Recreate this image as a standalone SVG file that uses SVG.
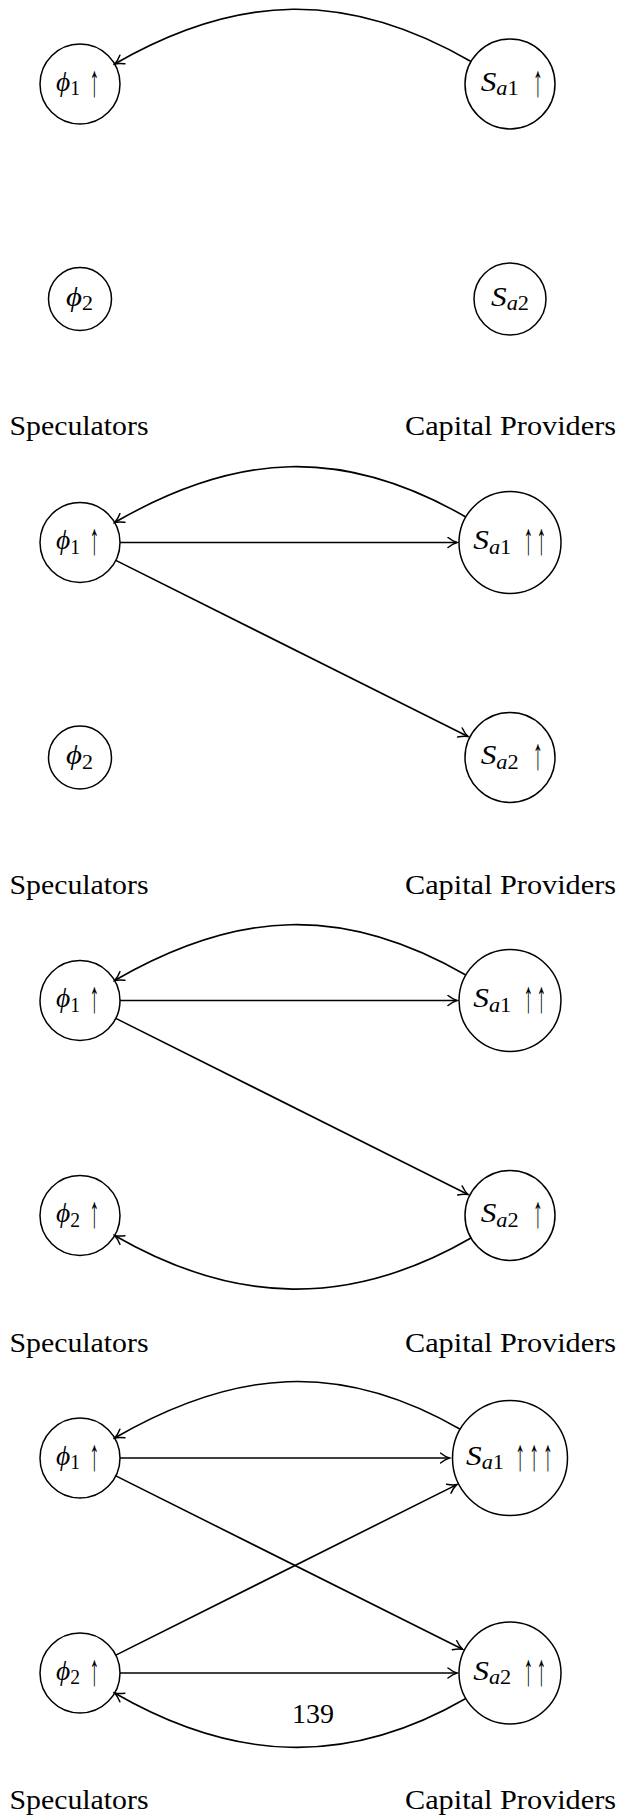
<svg xmlns="http://www.w3.org/2000/svg" width="621" height="1820" viewBox="0 0 621 1820">
<style>
.node{fill:#fff;stroke:#000;stroke-width:1.5}
.lbl{font-family:"Liberation Serif","DejaVu Serif",serif;font-size:28px;fill:#000}
.up{font-family:"Liberation Serif","DejaVu Serif",serif;font-size:28px;fill:#000;text-anchor:middle}
.it{font-style:italic}
.sub{font-size:20px}
.edge{fill:none;stroke:#000;stroke-width:1.6;marker-end:url(#arr)}
.cap{font-family:"Liberation Serif","DejaVu Serif",serif;font-size:28px;fill:#000}
</style>
<defs>
<marker id="arr" viewBox="-10 -6 12 12" refX="0" refY="0" markerWidth="12" markerHeight="12" markerUnits="userSpaceOnUse" orient="auto">
<path d="M-9,-5 C-5.5,-2.2 -1.8,-0.5 0,0 C-1.8,0.5 -5.5,2.2 -9,5" fill="none" stroke="#000" stroke-width="1.5" stroke-linecap="round"/>
</marker>
</defs>

<g id="panel1">
<g id="p1-phi1"><circle class="node" cx="80" cy="84" r="40"/><text class="lbl" x="56" y="90.5" textLength="24" lengthAdjust="spacingAndGlyphs"><tspan class="it">ϕ</tspan><tspan class="sub" dy="4.5">1</tspan></text><text class="up" transform="translate(0,95.5) scale(0.7,1.6)" x="135" y="0">↑</text></g>
<g id="p1-sa1"><circle class="node" cx="510" cy="84" r="45"/><text class="lbl" x="480.7" y="90.5" textLength="38" lengthAdjust="spacingAndGlyphs"><tspan class="it">S</tspan><tspan class="sub it" dy="4.5">a</tspan><tspan class="sub">1</tspan></text><text class="up" transform="translate(0,95.5) scale(0.7,1.6)" x="768.6" y="0">↑</text></g>
<g id="p1-phi2"><circle class="node" cx="80" cy="299" r="31.5"/><text class="lbl" x="66" y="305.5" textLength="27" lengthAdjust="spacingAndGlyphs"><tspan class="it">ϕ</tspan><tspan class="sub" dy="4.5">2</tspan></text></g>
<g id="p1-sa2"><circle class="node" cx="510" cy="299" r="36"/><text class="lbl" x="491" y="305.5" textLength="38" lengthAdjust="spacingAndGlyphs"><tspan class="it">S</tspan><tspan class="sub it" dy="4.5">a</tspan><tspan class="sub">2</tspan></text></g>
<g id="p1-labels"><text class="cap" x="9.5" y="435" textLength="139" lengthAdjust="spacingAndGlyphs">Speculators</text><text class="cap" x="405" y="435" textLength="211" lengthAdjust="spacingAndGlyphs">Capital Providers</text></g>
<g id="p1-connectors">
<path class="edge" d="M471,61.5 C347.5,-9.8 238.1,-7.3 114.6,64"/>
</g>
</g>

<g id="panel2" transform="translate(0,458.5)">
<g id="p2-phi1"><circle class="node" cx="80" cy="84" r="40"/><text class="lbl" x="56" y="90.5" textLength="24" lengthAdjust="spacingAndGlyphs"><tspan class="it">ϕ</tspan><tspan class="sub" dy="4.5">1</tspan></text><text class="up" transform="translate(0,95.5) scale(0.7,1.6)" x="135" y="0">↑</text></g>
<g id="p2-sa1"><circle class="node" cx="510" cy="84" r="51"/><text class="lbl" x="473.3" y="90.5" textLength="38" lengthAdjust="spacingAndGlyphs"><tspan class="it">S</tspan><tspan class="sub it" dy="4.5">a</tspan><tspan class="sub">1</tspan></text><text class="up" transform="translate(0,95.5) scale(0.7,1.6)" x="755 773.6" y="0">↑↑</text></g>
<g id="p2-phi2"><circle class="node" cx="80" cy="299" r="31.5"/><text class="lbl" x="66" y="305.5" textLength="27" lengthAdjust="spacingAndGlyphs"><tspan class="it">ϕ</tspan><tspan class="sub" dy="4.5">2</tspan></text></g>
<g id="p2-sa2"><circle class="node" cx="510" cy="299" r="45"/><text class="lbl" x="480.7" y="305.5" textLength="38" lengthAdjust="spacingAndGlyphs"><tspan class="it">S</tspan><tspan class="sub it" dy="4.5">a</tspan><tspan class="sub">2</tspan></text><text class="up" transform="translate(0,310.5) scale(0.7,1.6)" x="768.6" y="0">↑</text></g>
<g id="p2-labels"><text class="cap" x="9.5" y="435" textLength="139" lengthAdjust="spacingAndGlyphs">Speculators</text><text class="cap" x="405" y="435" textLength="211" lengthAdjust="spacingAndGlyphs">Capital Providers</text></g>
<g id="p2-connectors">
<path class="edge" d="M465.8,58.5 C343.3,-12.25 237.1,-6.75 114.6,64"/>
<path class="edge" d="M120,84 H457"/>
<path class="edge" d="M115.8,101.9 L468,278"/>
</g>
</g>

<g id="panel3" transform="translate(0,916.5)">
<g id="p3-phi1"><circle class="node" cx="80" cy="84" r="40"/><text class="lbl" x="56" y="90.5" textLength="24" lengthAdjust="spacingAndGlyphs"><tspan class="it">ϕ</tspan><tspan class="sub" dy="4.5">1</tspan></text><text class="up" transform="translate(0,95.5) scale(0.7,1.6)" x="135" y="0">↑</text></g>
<g id="p3-sa1"><circle class="node" cx="510" cy="84" r="51"/><text class="lbl" x="473.3" y="90.5" textLength="38" lengthAdjust="spacingAndGlyphs"><tspan class="it">S</tspan><tspan class="sub it" dy="4.5">a</tspan><tspan class="sub">1</tspan></text><text class="up" transform="translate(0,95.5) scale(0.7,1.6)" x="755 773.6" y="0">↑↑</text></g>
<g id="p3-phi2"><circle class="node" cx="80" cy="299" r="40"/><text class="lbl" x="56" y="305.5" textLength="24" lengthAdjust="spacingAndGlyphs"><tspan class="it">ϕ</tspan><tspan class="sub" dy="4.5">2</tspan></text><text class="up" transform="translate(0,310.5) scale(0.7,1.6)" x="135" y="0">↑</text></g>
<g id="p3-sa2"><circle class="node" cx="510" cy="299" r="45"/><text class="lbl" x="480.7" y="305.5" textLength="38" lengthAdjust="spacingAndGlyphs"><tspan class="it">S</tspan><tspan class="sub it" dy="4.5">a</tspan><tspan class="sub">2</tspan></text><text class="up" transform="translate(0,310.5) scale(0.7,1.6)" x="768.6" y="0">↑</text></g>
<g id="p3-labels"><text class="cap" x="9.5" y="435" textLength="139" lengthAdjust="spacingAndGlyphs">Speculators</text><text class="cap" x="405" y="435" textLength="211" lengthAdjust="spacingAndGlyphs">Capital Providers</text></g>
<g id="p3-connectors">
<path class="edge" d="M465.8,58.5 C343.3,-12.25 237.1,-6.75 114.6,64"/>
<path class="edge" d="M120,84 H457"/>
<path class="edge" d="M115.8,101.9 L468,278"/>
<path class="edge" d="M471,321.5 C350.2,391.3 235.4,388.8 114.6,319"/>
</g>
</g>

<g id="panel4" transform="translate(0,1374)">
<g id="p4-phi1"><circle class="node" cx="80" cy="84" r="40"/><text class="lbl" x="56" y="90.5" textLength="24" lengthAdjust="spacingAndGlyphs"><tspan class="it">ϕ</tspan><tspan class="sub" dy="4.5">1</tspan></text><text class="up" transform="translate(0,95.5) scale(0.7,1.6)" x="135" y="0">↑</text></g>
<g id="p4-sa1"><circle class="node" cx="510" cy="84" r="57.5"/><text class="lbl" x="466" y="90.5" textLength="38" lengthAdjust="spacingAndGlyphs"><tspan class="it">S</tspan><tspan class="sub it" dy="4.5">a</tspan><tspan class="sub">1</tspan></text><text class="up" transform="translate(0,95.5) scale(0.7,1.6)" x="742.9 762.9 782.9" y="0">↑↑↑</text></g>
<g id="p4-phi2"><circle class="node" cx="80" cy="299" r="40"/><text class="lbl" x="56" y="305.5" textLength="24" lengthAdjust="spacingAndGlyphs"><tspan class="it">ϕ</tspan><tspan class="sub" dy="4.5">2</tspan></text><text class="up" transform="translate(0,310.5) scale(0.7,1.6)" x="135" y="0">↑</text></g>
<g id="p4-sa2"><circle class="node" cx="510" cy="299" r="51"/><text class="lbl" x="473.3" y="305.5" textLength="38" lengthAdjust="spacingAndGlyphs"><tspan class="it">S</tspan><tspan class="sub it" dy="4.5">a</tspan><tspan class="sub">2</tspan></text><text class="up" transform="translate(0,310.5) scale(0.7,1.6)" x="755 773.6" y="0">↑↑</text></g>
<g id="p4-labels"><text class="cap" x="9.5" y="435" textLength="139" lengthAdjust="spacingAndGlyphs">Speculators</text><text class="cap" x="405" y="435" textLength="211" lengthAdjust="spacingAndGlyphs">Capital Providers</text><text class="cap" x="313" y="348.5" text-anchor="middle">139</text></g>
<g id="p4-connectors">
<path class="edge" d="M460.2,55.25 C340.3,-14 234.5,-5.25 114.6,64"/>
<path class="edge" d="M120,84 H449.5"/>
<path class="edge" d="M115.8,101.9 L462.6,275.3"/>
<path class="edge" d="M115.8,281.1 L456.8,110.6"/>
<path class="edge" d="M120,299 H457"/>
<path class="edge" d="M465.8,324.5 C346.7,393.25 233.7,387.75 114.6,319"/>
</g>
</g>
</svg>
